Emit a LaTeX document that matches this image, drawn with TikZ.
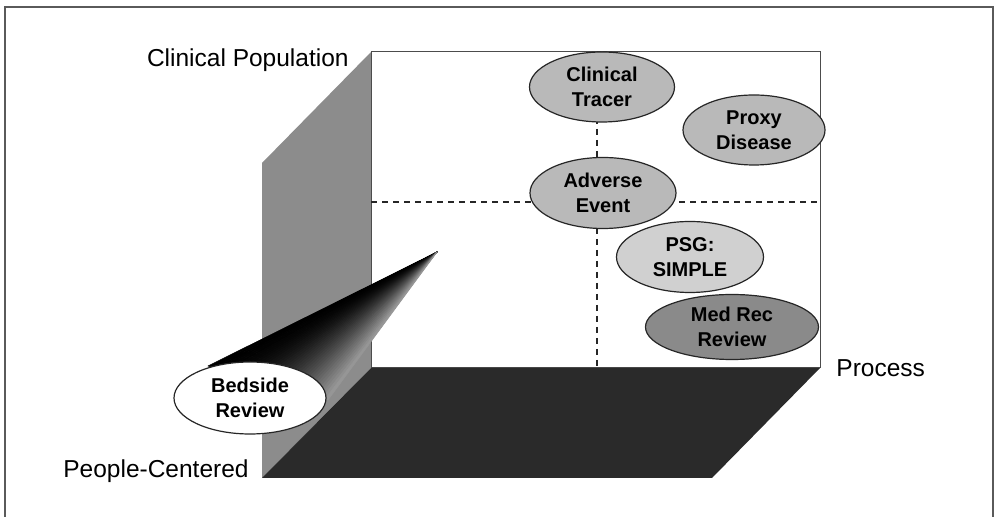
\documentclass[tikz,border=0pt]{standalone}
\usepackage{fontspec}
\setmainfont{Liberation Sans}
\usetikzlibrary{shapes.geometric,calc}

\definecolor{framegray}{RGB}{90,90,90}
\definecolor{sidewall}{RGB}{140,140,140}
\definecolor{floordark}{RGB}{42,42,42}
\definecolor{midfill}{RGB}{185,185,185}
\definecolor{lightfill}{RGB}{208,208,208}
\definecolor{darkfill}{RGB}{138,138,138}

\tikzset{
  axislabel/.style={font=\fontsize{12.25}{14}\selectfont, inner sep=0pt},
  bubble/.style={ellipse, draw=black!85, line width=0.6pt, inner sep=0pt,
    align=center, font=\fontsize{10}{12.5}\selectfont\bfseries},
  guide/.style={draw=black!85, line width=0.6pt, dash pattern=on 3pt off 2.5pt},
}

\begin{document}
\begin{tikzpicture}[x=0.5pt,y=-0.5pt]
  \useasboundingbox (0,0) rectangle (996,517);

  % outer frame, open at the bottom
  \draw[framegray, line width=0.8pt] (5,517) -- (5,7) -- (993,7) -- (993,517);

  % corner points of the box
  \coordinate (bwTL) at (371,52);
  \coordinate (bwTR) at (820,52);
  \coordinate (bwBR) at (820,368);
  \coordinate (bwBL) at (371,368);
  \coordinate (swT)  at (262,163);
  \coordinate (flBL) at (262,478);
  \coordinate (flBR) at (712,478);

  % side wall
  \fill[sidewall] (bwTL) -- (swT) -- (flBL) -- (bwBL) -- cycle;
  % back wall
  \filldraw[fill=white, draw=black!70, line width=0.5pt]
    (bwTL) rectangle (bwBR);
  % floor
  \fill[floordark] (bwBL) -- (bwBR) -- (flBR) -- (flBL) -- cycle;

  % quadrant guides
  \coordinate (hL) at (371,202);
  \coordinate (hR) at (820,202);
  \coordinate (vT) at (597,52);
  \coordinate (vB) at (597,368);
  \draw[guide] (hL) -- (hR);
  \draw[guide] (vT) -- (vB);

  % cone towards the bedside bubble, shaded as a fan of thin slices
  \coordinate (coneTip) at (437,252);
  \coordinate (coneUp)  at (208,366);
  \coordinate (coneLow) at (328,400);
  \foreach \i in {0,...,39}{
    \pgfmathsetmacro{\ta}{\i/40}
    \pgfmathsetmacro{\tb}{(\i+1)/40}
    \pgfmathsetmacro{\tone}{100-62*\ta*\ta}
    \filldraw[fill=black!\tone, draw=black!\tone, line width=0.3pt, line join=round]
      (coneTip) -- ($(coneUp)!\ta!(coneLow)$) -- ($(coneUp)!\tb!(coneLow)$) -- cycle;
  }

  % bubbles
  \node[bubble, fill=midfill, minimum width=72.5pt, minimum height=35pt]
    (tracer) at (602,87) {Clinical\\Tracer};
  \node[bubble, fill=midfill, minimum width=71pt, minimum height=35pt]
    (proxy) at (754,130) {Proxy\\Disease};
  \node[bubble, fill=midfill, minimum width=73pt, minimum height=35.5pt]
    (adverse) at (603,193) {Adverse\\Event};
  \node[bubble, fill=lightfill, minimum width=73.5pt, minimum height=35.5pt]
    (psg) at (690,257) {PSG:\\SIMPLE};
  \node[bubble, fill=darkfill, minimum width=86.5pt, minimum height=32.5pt]
    (medrec) at (732,327) {Med Rec\\Review};
  \node[bubble, fill=white, minimum width=76pt, minimum height=36pt]
    (bedside) at (250,398) {Bedside\\Review};

  % axis labels
  \node[axislabel, anchor=east] (population) at (349,60) {Clinical Population};
  \node[axislabel, anchor=west] (process) at (836,368) {Process};
  \node[axislabel, anchor=east] (people) at (249,471) {People-Centered};
\end{tikzpicture}
\end{document}
